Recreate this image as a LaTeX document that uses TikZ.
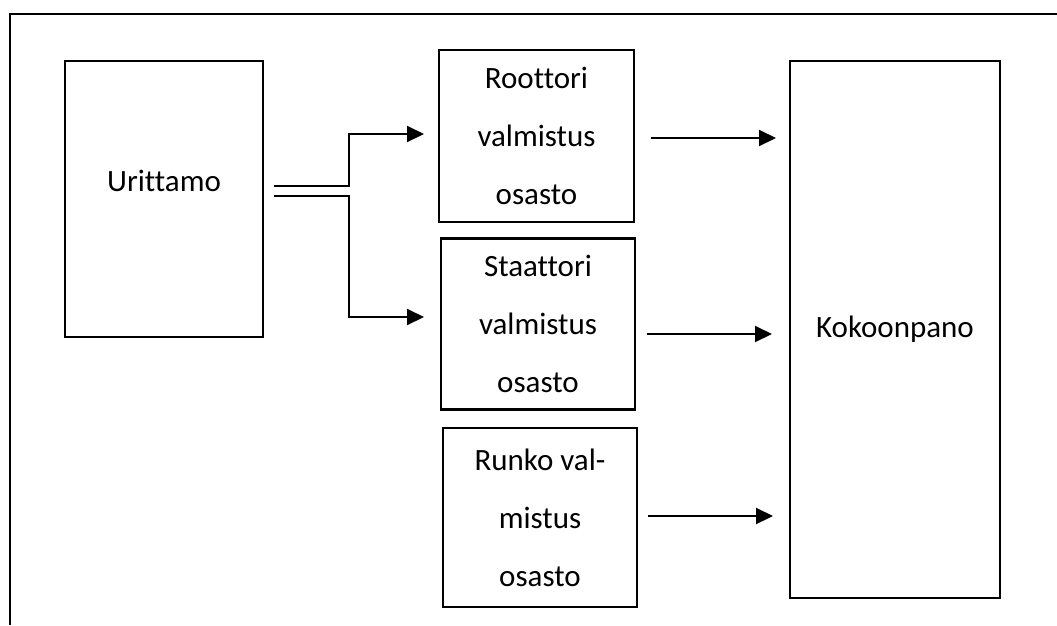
\documentclass[tikz,border=0pt]{standalone}
\usepackage{fontspec}
\setmainfont{Carlito}[Ligatures=NoCommon]
\usetikzlibrary{arrows.meta}
\begin{document}
\begin{tikzpicture}[x=1pt,y=-1pt,
  box/.style={draw,line width=2.6pt,rectangle,inner sep=0pt,align=center,
    font=\fontsize{31}{58}\selectfont},
  flow/.style={line width=2pt,-{Triangle[length=17pt,width=16pt]}},
  frame/.style={line width=2.8pt}]
\useasboundingbox (0,0) rectangle (1057,625);
% open frame: top and left edges only
\draw[frame] (1057,14) -- (10,14) -- (10,625);

% departments
\node[box,minimum width=198pt,minimum height=276pt,text height=23pt,text depth=39pt]
  (urit) at (164,199) {Urittamo};
\node[box,minimum width=195pt,minimum height=172pt] (root) at (536.5,136)
  {Roottori\\valmistus\\osasto};
\node[box,minimum width=194pt,minimum height=171pt] (staat) at (538,324)
  {Staattori\\valmistus\\osasto};
\node[box,minimum width=194pt,minimum height=179pt] (runko) at (540,517.5)
  {Runko val-\\mistus\\osasto};
\node[box,minimum width=210pt,minimum height=537pt] (koko) at (895,329.5)
  {Kokoonpano};

% connector end points
\coordinate (u1) at (274,186);
\coordinate (u2) at (274,196);
\coordinate (r1) at (424,134);
\coordinate (s1) at (424,317);
\coordinate (ro) at (651,138);
\coordinate (ri) at (776,138);
\coordinate (so) at (647,334);
\coordinate (si) at (772,334);
\coordinate (ko) at (648,516);
\coordinate (ki) at (773,516);

% split from Urittamo
\draw[flow,line join=miter] (u1) -- (349,186) -- (349,134) -- (r1);
\draw[flow,line join=miter] (u2) -- (349,196) -- (349,317) -- (s1);

% into assembly
\draw[flow] (ro) -- (ri);
\draw[flow] (so) -- (si);
\draw[flow] (ko) -- (ki);
\end{tikzpicture}
\end{document}
